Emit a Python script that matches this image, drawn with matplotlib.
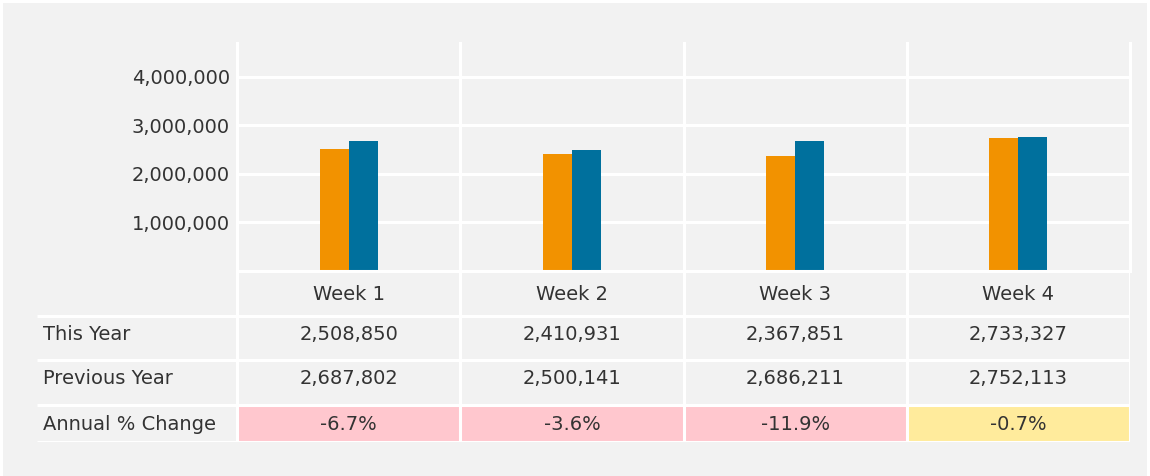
import matplotlib
matplotlib.use("Agg")
import matplotlib.pyplot as plt
from matplotlib.patches import Rectangle

# data
weeks = ["Week 1", "Week 2", "Week 3", "Week 4"]
this_year = [2508850, 2410931, 2367851, 2733327]
prev_year = [2687802, 2500141, 2686211, 2752113]
pct_change = [-6.7, -3.6, -11.9, -0.7]
row_labels = ["This Year", "Previous Year", "Annual % Change"]
y_ticks = [1000000, 2000000, 3000000, 4000000]

BG = "#f2f2f2"
TXT = "#333333"
ORANGE = "#f29200"
BLUE = "#00709d"
PINK = "#ffc7ce"
YELLOW = "#ffeb9c"
FS = 14
W, H = 1150, 476

plt.rcParams["font.family"] = ["DejaVu Sans"]

fig = plt.figure(figsize=(W / 100, H / 100), dpi=100, facecolor="white")
# grey panel with a thin white frame
fig.patches.append(Rectangle((3 / W, 0), 1 - 6 / W, 1 - 3 / H,
                             transform=fig.transFigure, facecolor=BG,
                             edgecolor="none", zorder=-10))

def fig_rect(x0, y0, x1, y1):
    # pixel box -> figure coords
    return [x0 / W, 1 - y1 / H, (x1 - x0) / W, (y1 - y0) / H]

# ---- bar chart ----
ax = fig.add_axes(fig_rect(237, 43, 1130, 271))
ax.set_facecolor("none")
n = len(weeks)
bw = 29 / 223
xs = [i + 0.5 for i in range(n)]
ax.bar([x - bw / 2 for x in xs], this_year, width=bw, color=ORANGE, zorder=3)
ax.bar([x + bw / 2 for x in xs], prev_year, width=bw, color=BLUE, zorder=3)
ax.set_xlim(0, n)
ax.set_ylim(0, 4.70e6)
for t in y_ticks:
    ax.axhline(t, color="white", lw=2.2, zorder=1)
ax.axhline(0, color="white", lw=2.2, zorder=4, clip_on=False)
for i in range(n + 1):
    ax.axvline(i, color="white", lw=2.2, zorder=1, clip_on=False)
ax.set_yticks(y_ticks)
ax.set_yticklabels([f"{t:,}" for t in y_ticks], fontsize=FS, color=TXT)
ax.tick_params(axis="y", length=0, pad=5)
ax.set_xticks([])
for s in ax.spines.values():
    s.set_visible(False)

# ---- table under the chart ----
label_w = 200 / 223
row_h = [45, 44, 45, 37]
text_shift = [1.5, -4, -3.5, 0.5]   # text sits a bit off-centre in the rows
edges = [0]
for h in row_h:
    edges.append(edges[-1] + h)

tx = fig.add_axes(fig_rect(37, 271, 1130, 271 + edges[-1]))
tx.set_facecolor("none")
tx.set_xlim(-label_w, n)
tx.set_ylim(edges[-1], 0)
tx.axis("off")

# coloured change cells
for i, p in enumerate(pct_change):
    c = PINK if p < -1 else YELLOW
    tx.add_patch(Rectangle((i, edges[3]), 1, row_h[3], facecolor=c,
                           edgecolor="none", zorder=1))

# white grid lines
for e in edges[1:]:
    tx.plot([-label_w, n], [e, e], color="white", lw=2.2, zorder=2,
            solid_capstyle="butt")
for i in range(n + 1):
    tx.plot([i, i], [0, edges[-1]], color="white", lw=2.2, zorder=2,
            solid_capstyle="butt")

def mid(r):
    return (edges[r] + edges[r + 1]) / 2 + text_shift[r]

for i, wk in enumerate(weeks):
    tx.text(i + 0.5, mid(0), wk, ha="center", va="center", fontsize=FS, color=TXT)
    tx.text(i + 0.5, mid(1), f"{this_year[i]:,}", ha="center", va="center",
            fontsize=FS, color=TXT)
    tx.text(i + 0.5, mid(2), f"{prev_year[i]:,}", ha="center", va="center",
            fontsize=FS, color=TXT)
    tx.text(i + 0.5, mid(3), f"{pct_change[i]:.1f}%", ha="center", va="center",
            fontsize=FS, color=TXT, zorder=3)

for r, lab in enumerate(row_labels):
    tx.text(-label_w + 6 / 223, mid(r + 1), lab, ha="left", va="center",
            fontsize=FS, color=TXT)

fig.savefig("out.png", dpi=100, facecolor=fig.get_facecolor())
